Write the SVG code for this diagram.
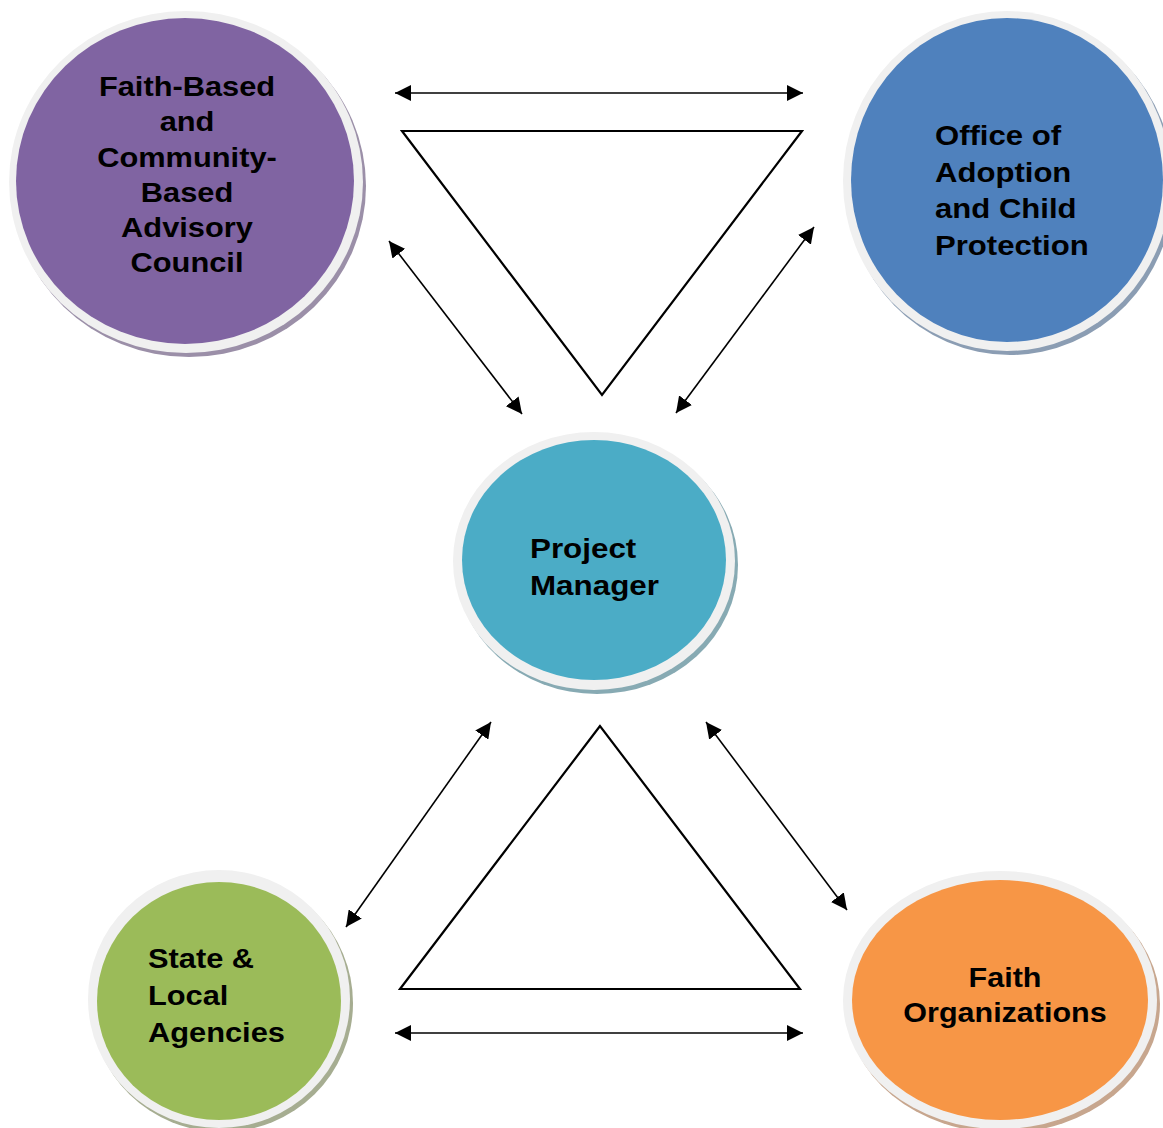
<svg xmlns="http://www.w3.org/2000/svg" width="1163" height="1128" viewBox="0 0 1163 1128">
<style>
.ring{fill:#F0F0F0}
.lbl{font-family:"Liberation Sans",Arial,sans-serif;font-weight:bold;font-size:28px;fill:#000}
.conn{stroke:#000;stroke-width:1.6;fill:none;marker-start:url(#ah);marker-end:url(#ah)}
.tri{stroke:#000;stroke-width:2.2;fill:#fff;stroke-linejoin:miter}
</style>
<defs>
<marker id="ah" markerUnits="userSpaceOnUse" markerWidth="16" markerHeight="16" viewBox="0 0 16 16" refX="16" refY="8" orient="auto-start-reverse">
<path d="M0,0 L16,8 L0,16 z" fill="#000"/>
</marker>
</defs>
<rect width="1163" height="1128" fill="#fff"/>

<g id="triangles">
<polygon class="tri" points="402,131 802,131 602,395"/>
<polygon class="tri" points="600,726 400,989 800,989"/>
</g>

<g id="connectors">
<line class="conn" x1="395" y1="93" x2="803" y2="93"/>
<line class="conn" x1="389" y1="241" x2="522" y2="414"/>
<line class="conn" x1="814" y1="227" x2="676" y2="413"/>
<line class="conn" x1="491" y1="722" x2="346" y2="927"/>
<line class="conn" x1="706" y1="722" x2="847" y2="910"/>
<line class="conn" x1="395" y1="1033" x2="803" y2="1033"/>
</g>

<g id="node-advisory">
<ellipse cx="189" cy="186" rx="177" ry="171" fill="#9b8fa8"/>
<ellipse class="ring" cx="186" cy="182" rx="177" ry="171"/>
<ellipse cx="185" cy="181" rx="169" ry="163" fill="#8064A2"/>
<text class="lbl" text-anchor="middle" transform="translate(187 0) scale(1.1 1)"><tspan x="0" y="96">Faith-Based</tspan><tspan x="0" y="131">and</tspan><tspan x="0" y="167">Community-</tspan><tspan x="0" y="202">Based</tspan><tspan x="0" y="237">Advisory</tspan><tspan x="0" y="272">Council</tspan></text>
</g>

<g id="node-office">
<ellipse cx="1010" cy="185" rx="164" ry="170" fill="#8b9db3"/>
<ellipse class="ring" cx="1007" cy="181" rx="164" ry="170"/>
<ellipse cx="1007" cy="180" rx="156" ry="162" fill="#4F81BD"/>
<text class="lbl" transform="translate(935 0) scale(1.11 1)"><tspan x="0" y="145">Office of</tspan><tspan x="0" y="182">Adoption</tspan><tspan x="0" y="218">and Child</tspan><tspan x="0" y="255">Protection</tspan></text>
</g>

<g id="node-pm">
<ellipse cx="597" cy="565" rx="141" ry="129" fill="#87aab3"/>
<ellipse class="ring" cx="594" cy="561" rx="141" ry="129"/>
<ellipse cx="594" cy="560" rx="132" ry="120" fill="#4BACC6"/>
<text class="lbl" transform="translate(530 0) scale(1.12 1)"><tspan x="0" y="558">Project</tspan><tspan x="0" y="595">Manager</tspan></text>
</g>

<g id="node-state">
<ellipse cx="222" cy="1003" rx="131" ry="129" fill="#a6ad91"/>
<ellipse class="ring" cx="219" cy="999" rx="131" ry="129"/>
<ellipse cx="219" cy="1001" rx="122" ry="119" fill="#9BBB59"/>
<text class="lbl" transform="translate(148 0) scale(1.1 1)"><tspan x="0" y="968">State &amp;</tspan><tspan x="0" y="1005">Local</tspan><tspan x="0" y="1042">Agencies</tspan></text>
</g>

<g id="node-faith">
<ellipse cx="1003" cy="1004" rx="157" ry="129" fill="#c7a68e"/>
<ellipse class="ring" cx="1000" cy="1000" rx="157" ry="129"/>
<ellipse cx="1000" cy="1000" rx="148" ry="120" fill="#F79646"/>
<text class="lbl" text-anchor="middle" transform="translate(1005 0) scale(1.09 1)"><tspan x="0" y="987">Faith</tspan><tspan x="0" y="1022">Organizations</tspan></text>
</g>
</svg>
